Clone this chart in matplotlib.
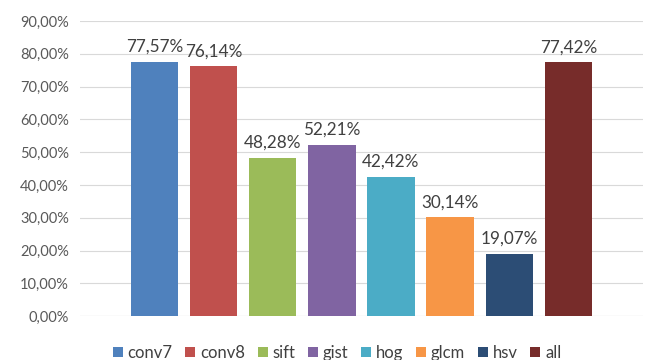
import matplotlib
matplotlib.use("Agg")
import matplotlib.pyplot as plt
from matplotlib.patches import Patch

# data
labels = ["conv7", "conv8", "sift", "gist", "hog", "glcm", "hsv", "all"]
values = [77.57, 76.14, 48.28, 52.21, 42.42, 30.14, 19.07, 77.42]
colors = ["#4F81BD", "#C0504D", "#9BBB59", "#8064A2",
          "#4BACC6", "#F79646", "#2C4D75", "#772C2A"]
yticks = [0, 10, 20, 30, 40, 50, 60, 70, 80, 90]

plt.rcParams["font.family"] = ["Lato", "DejaVu Sans"]

fig = plt.figure(figsize=(6.48, 3.6), dpi=100)
ax = fig.add_axes([0.1235, 0.122, 0.8685, 0.8197])

x = list(range(len(values)))
ax.bar(x, values, width=0.8, color=colors, zorder=2)

for xi, v in zip(x, values):
    ax.annotate(f"{v:.2f}%".replace(".", ","), (xi, v), xytext=(0, 5),
                textcoords="offset points", ha="center", va="bottom",
                fontsize=12.3, color="#404040")

ax.set_ylim(0, 90)
ax.set_xlim(-1.26, 8.26)
ax.set_yticks(yticks)
ax.set_yticklabels([f"{t:.2f}%".replace(".", ",") for t in yticks],
                   fontsize=10.5, color="#595959")
ax.set_xticks([])
ax.grid(axis="y", color="#D9D9D9", linewidth=0.8, zorder=0)
ax.tick_params(axis="y", length=0, pad=8)
for s in ax.spines.values():
    s.set_visible(False)
ax.axhline(0, color="#D9D9D9", linewidth=0.8, zorder=1)

handles = [Patch(facecolor=c, label=l) for c, l in zip(colors, labels)]
fig.legend(handles=handles, loc="center", bbox_to_anchor=(0.52, 0.02), ncol=8,
           frameon=False, fontsize=12, handlelength=0.6, handleheight=0.6,
           handletextpad=0.3, columnspacing=0.75, labelcolor="#404040")

fig.savefig("out.png", dpi=100)
